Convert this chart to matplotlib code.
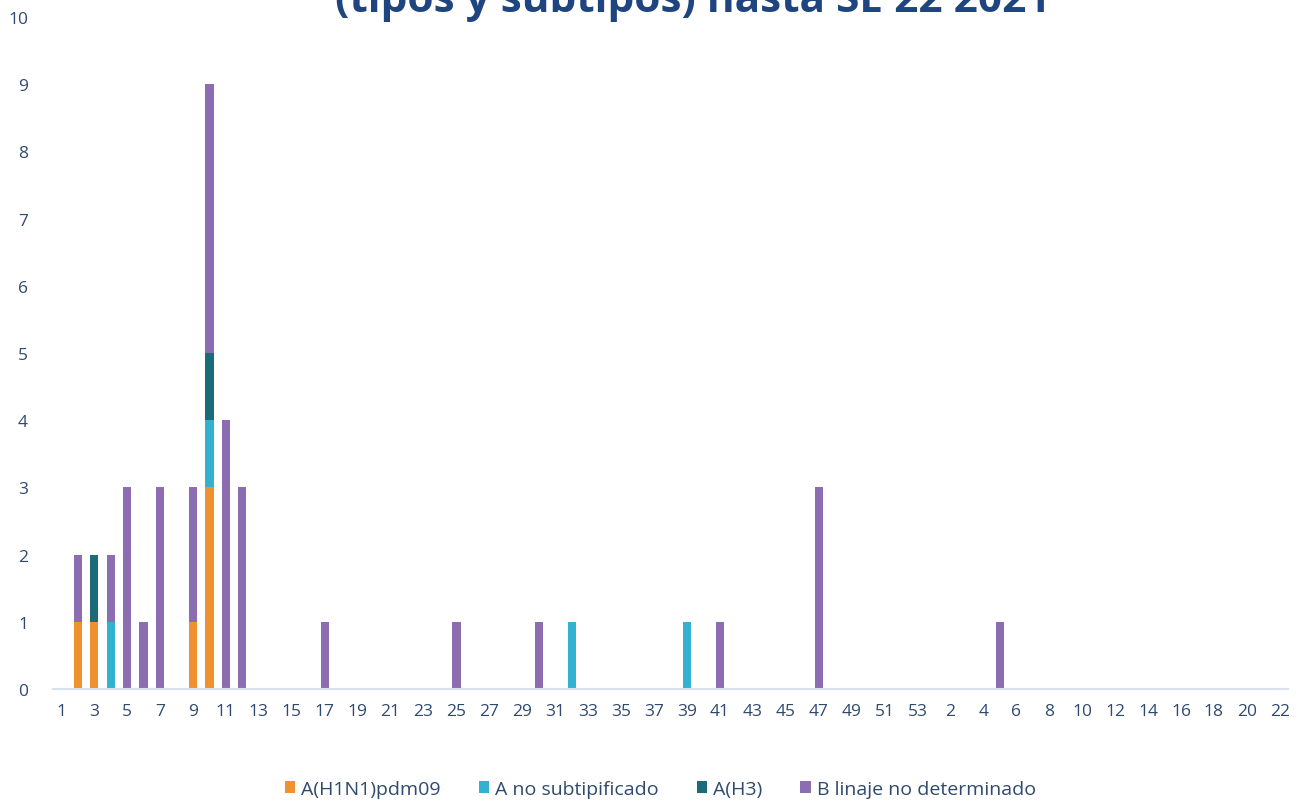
import matplotlib.pyplot as plt
import numpy as np

# epidemiological weeks: 2020 weeks 1-53, then 2021 weeks 1-22
weeks_2020 = list(range(1, 54))
weeks_2021 = list(range(1, 23))
labels = [str(w) for w in weeks_2020 + weeks_2021]

series_names = ["A(H1N1)pdm09", "A no subtipificado", "A(H3)", "B linaje no determinado"]
colors = ["#F0912F", "#33B1D1", "#1C6B79", "#8D6DB2"]

# counts per week, keyed by (year, week)
h1n1 = {(2020, 2): 1, (2020, 3): 1, (2020, 9): 1, (2020, 10): 3}
a_nosub = {(2020, 4): 1, (2020, 10): 1, (2020, 32): 1, (2020, 39): 1}
h3 = {(2020, 3): 1, (2020, 10): 1}
b_linaje = {(2020, 2): 1, (2020, 4): 1, (2020, 5): 3, (2020, 6): 1, (2020, 7): 3,
            (2020, 9): 2, (2020, 10): 4, (2020, 11): 4, (2020, 12): 3, (2020, 17): 1,
            (2020, 25): 1, (2020, 30): 1, (2020, 41): 1, (2020, 47): 3, (2021, 5): 1}

keys = [(2020, w) for w in weeks_2020] + [(2021, w) for w in weeks_2021]
data = [[d.get(k, 0) for k in keys] for d in (h1n1, a_nosub, h3, b_linaje)]

plt.rcParams['font.family'] = ['Open Sans', 'DejaVu Sans']
text_col = "#2F4A6E"

fig = plt.figure(figsize=(13.05, 8.03), dpi=100)
ax = fig.add_axes([53 / 1305, 113 / 803, 1235 / 1305, 672 / 803])

x = np.arange(len(keys))
bottom = np.zeros(len(keys))
for name, vals, c in zip(series_names, data, colors):
    vals = np.array(vals, dtype=float)
    ax.bar(x, vals, width=0.5, bottom=bottom, color=c, label=name)
    bottom += vals

ax.set_xlim(-0.5, len(keys) - 0.5)
ax.set_ylim(0, 10)
ax.set_yticks(range(0, 11))
ax.set_xticks(x[::2])
ax.set_xticklabels(labels[::2])
ax.tick_params(axis='both', length=0, labelsize=12.5, colors=text_col)
ax.tick_params(axis='y', pad=18)
ax.tick_params(axis='x', pad=10)
for s in ['top', 'right', 'left']:
    ax.spines[s].set_visible(False)
ax.spines['bottom'].set_color("#D9E3EE")
ax.spines['bottom'].set_linewidth(1.5)

fig.text(0.531, 1 - 12 / 803, "(tipos y subtipos) hasta SE 22 2021", ha='center',
         va='baseline', fontsize=30.5, fontweight='bold', color="#1F4580")

fig.legend(loc='center', bbox_to_anchor=(0.506, 1 - 790 / 803), ncol=4, frameon=False,
           fontsize=14, handlelength=0.55, handleheight=0.55, handletextpad=0.3,
           columnspacing=1.95, labelcolor=text_col)

fig.savefig("out.png", dpi=100)
